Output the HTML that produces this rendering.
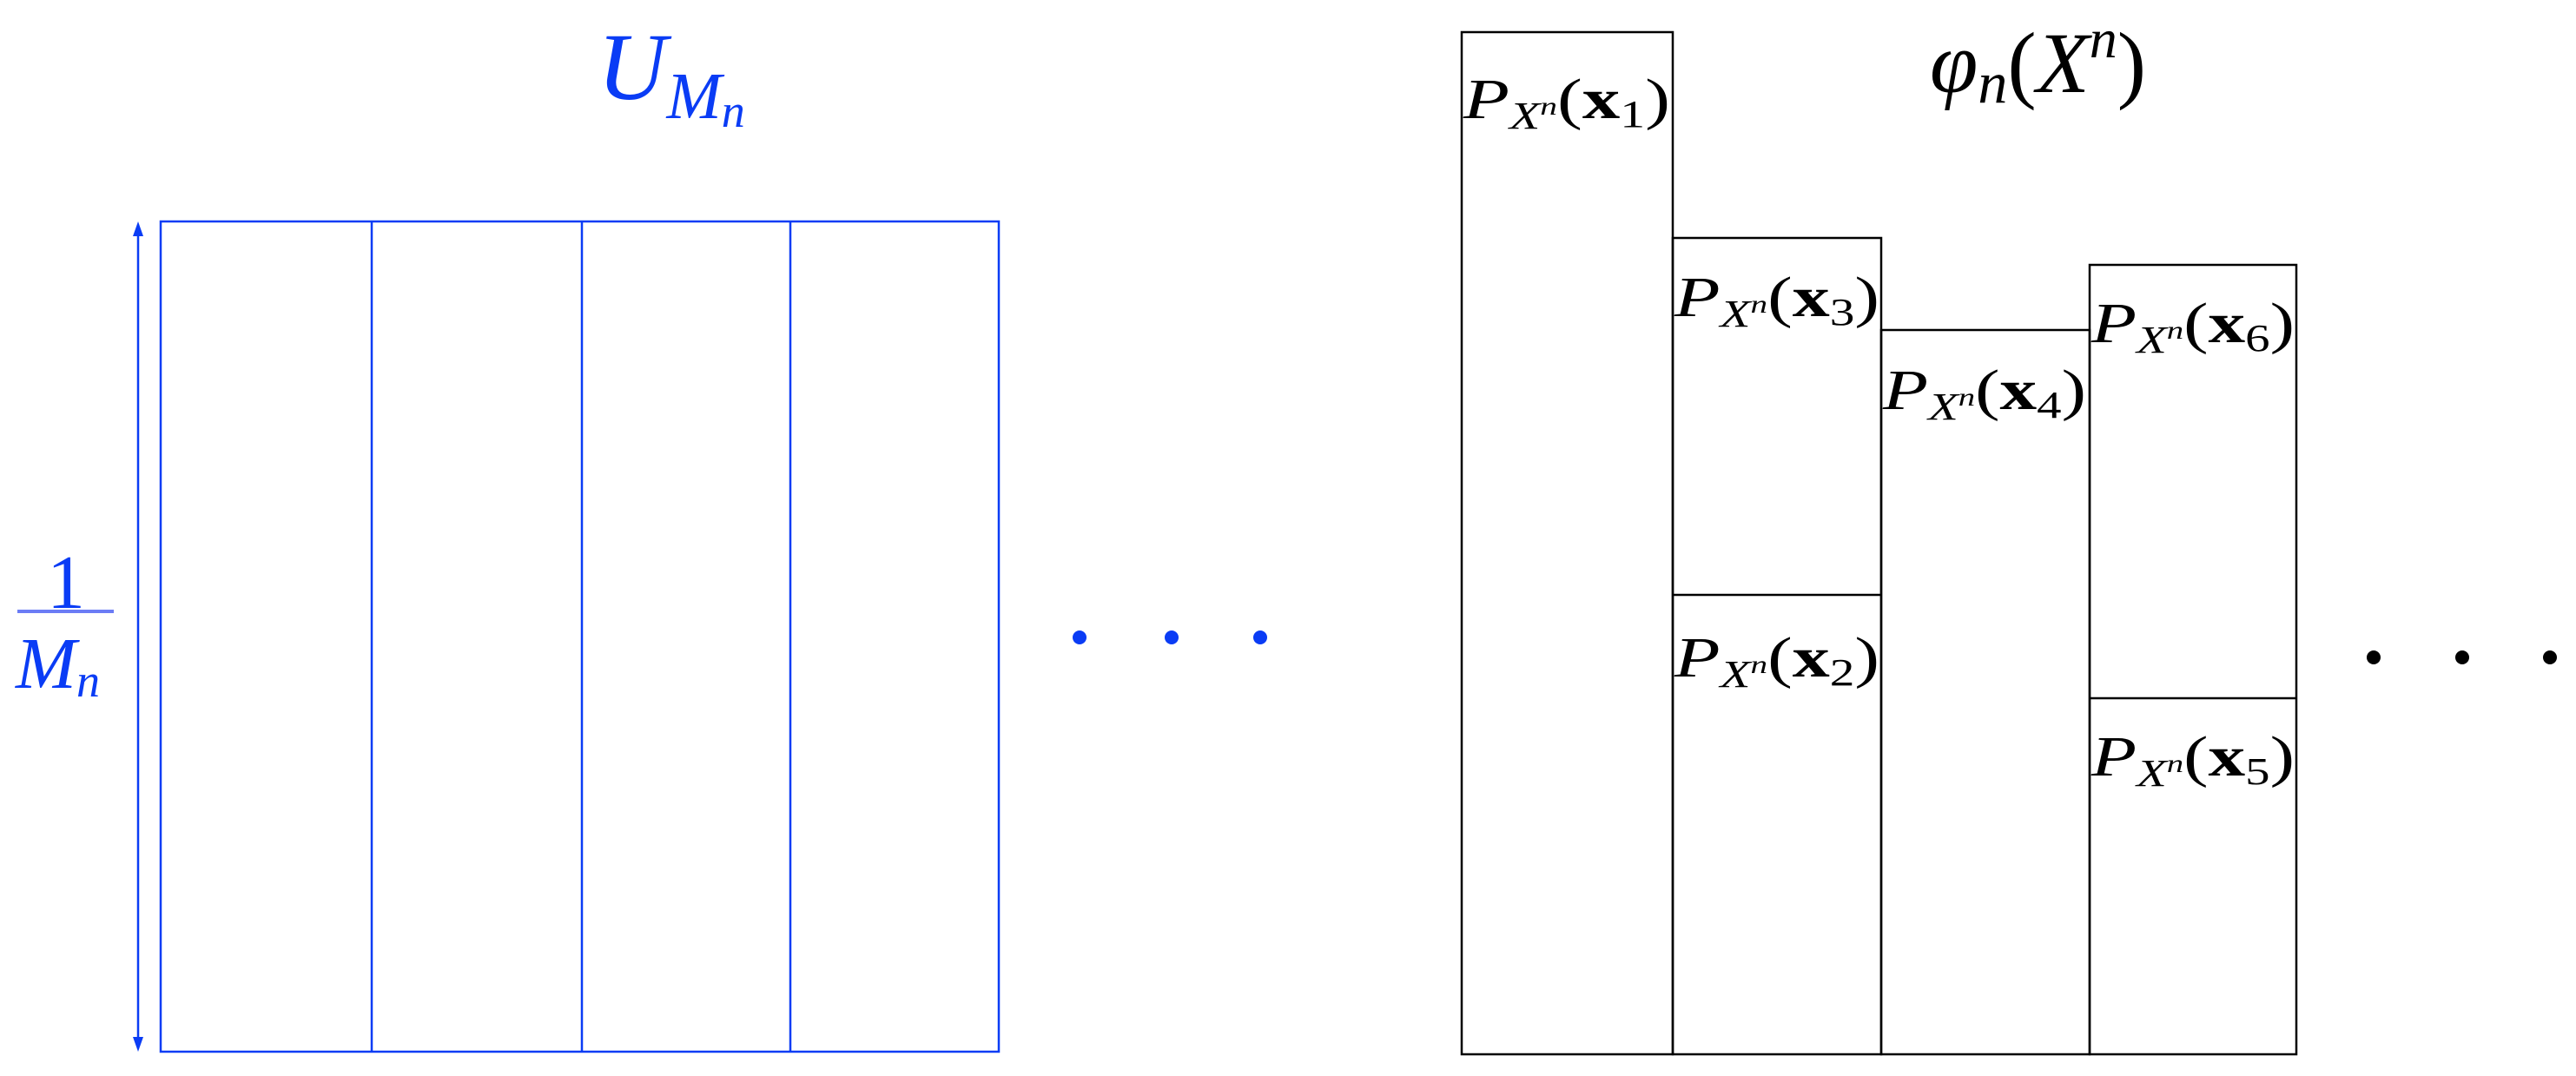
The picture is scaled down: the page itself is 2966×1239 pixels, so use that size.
<!DOCTYPE html>
<html><head><meta charset="utf-8"><style>
html,body{margin:0;padding:0;background:#fff;}
svg{display:block;}
text{font-family:"Liberation Serif",serif;}
</style></head><body>
<svg width="2966" height="1239" viewBox="0 0 2966 1239" xmlns="http://www.w3.org/2000/svg">
<g stroke="#0a3cf5" stroke-width="2.5" fill="none">
<rect x="185" y="255" width="965" height="956"/>
<line x1="428" y1="255" x2="428" y2="1211"/>
<line x1="670" y1="255" x2="670" y2="1211"/>
<line x1="910" y1="255" x2="910" y2="1211"/>
<line x1="159" y1="268" x2="159" y2="1198"/>
</g>
<polygon points="159,255 153,272 165,272" fill="#0a3cf5"/>
<polygon points="159,1211 153,1194 165,1194" fill="#0a3cf5"/>
<text x="688" y="114" font-size="110" fill="#0a3cf5" font-style="italic">U<tspan font-size="76" dy="22">M</tspan><tspan font-size="54" dy="10">n</tspan></text>
<text x="76" y="700" font-size="88" fill="#0a3cf5" text-anchor="middle">1</text>
<line x1="20" y1="704" x2="131" y2="704" stroke="#6b7cf5" stroke-width="4"/>
<text x="18" y="792" font-size="84" fill="#0a3cf5" font-style="italic">M<tspan font-size="54" dy="10">n</tspan></text>
<g fill="#0a3cf5"><circle cx="1243" cy="734" r="8"/><circle cx="1349" cy="734" r="8"/><circle cx="1451" cy="734" r="8"/></g>

<g stroke="#000" stroke-width="2.5" fill="none">
<rect x="1683" y="37" width="243" height="1177"/>
<rect x="1926" y="274" width="240" height="940"/>
<line x1="1926" y1="685" x2="2166" y2="685"/>
<rect x="2166" y="380" width="240" height="834"/>
<rect x="2406" y="305" width="238" height="909"/>
<line x1="2406" y1="804" x2="2644" y2="804"/>
</g>
<text x="2222" y="106" font-size="100" font-style="italic">φ<tspan font-size="68" dy="12">n</tspan><tspan font-style="normal" font-size="100" dy="-12">(</tspan>X<tspan font-size="64" dy="-40">n</tspan><tspan font-style="normal" font-size="100" dy="40">)</tspan></text>

<g font-size="66">
<text x="1685" y="136" textLength="238" lengthAdjust="spacingAndGlyphs"><tspan font-style="italic">P</tspan><tspan font-style="italic" font-size="44" dy="12">X</tspan><tspan font-style="italic" font-size="30" dy="-16">n</tspan><tspan dy="4">(</tspan><tspan font-weight="bold">x</tspan><tspan font-size="44" dy="10">1</tspan><tspan dy="-10">)</tspan></text>
<text x="1928" y="364" textLength="236" lengthAdjust="spacingAndGlyphs"><tspan font-style="italic">P</tspan><tspan font-style="italic" font-size="44" dy="12">X</tspan><tspan font-style="italic" font-size="30" dy="-16">n</tspan><tspan dy="4">(</tspan><tspan font-weight="bold">x</tspan><tspan font-size="44" dy="10">3</tspan><tspan dy="-10">)</tspan></text>
<text x="1928" y="779" textLength="236" lengthAdjust="spacingAndGlyphs"><tspan font-style="italic">P</tspan><tspan font-style="italic" font-size="44" dy="12">X</tspan><tspan font-style="italic" font-size="30" dy="-16">n</tspan><tspan dy="4">(</tspan><tspan font-weight="bold">x</tspan><tspan font-size="44" dy="10">2</tspan><tspan dy="-10">)</tspan></text>
<text x="2168" y="471" textLength="234" lengthAdjust="spacingAndGlyphs"><tspan font-style="italic">P</tspan><tspan font-style="italic" font-size="44" dy="12">X</tspan><tspan font-style="italic" font-size="30" dy="-16">n</tspan><tspan dy="4">(</tspan><tspan font-weight="bold">x</tspan><tspan font-size="44" dy="10">4</tspan><tspan dy="-10">)</tspan></text>
<text x="2408" y="394" textLength="234" lengthAdjust="spacingAndGlyphs"><tspan font-style="italic">P</tspan><tspan font-style="italic" font-size="44" dy="12">X</tspan><tspan font-style="italic" font-size="30" dy="-16">n</tspan><tspan dy="4">(</tspan><tspan font-weight="bold">x</tspan><tspan font-size="44" dy="10">6</tspan><tspan dy="-10">)</tspan></text>
<text x="2408" y="893" textLength="234" lengthAdjust="spacingAndGlyphs"><tspan font-style="italic">P</tspan><tspan font-style="italic" font-size="44" dy="12">X</tspan><tspan font-style="italic" font-size="30" dy="-16">n</tspan><tspan dy="4">(</tspan><tspan font-weight="bold">x</tspan><tspan font-size="44" dy="10">5</tspan><tspan dy="-10">)</tspan></text>
</g>
<g fill="#000"><circle cx="2733" cy="757" r="8"/><circle cx="2835" cy="757" r="8"/><circle cx="2936" cy="757" r="8"/></g>
</svg>
</body></html>
